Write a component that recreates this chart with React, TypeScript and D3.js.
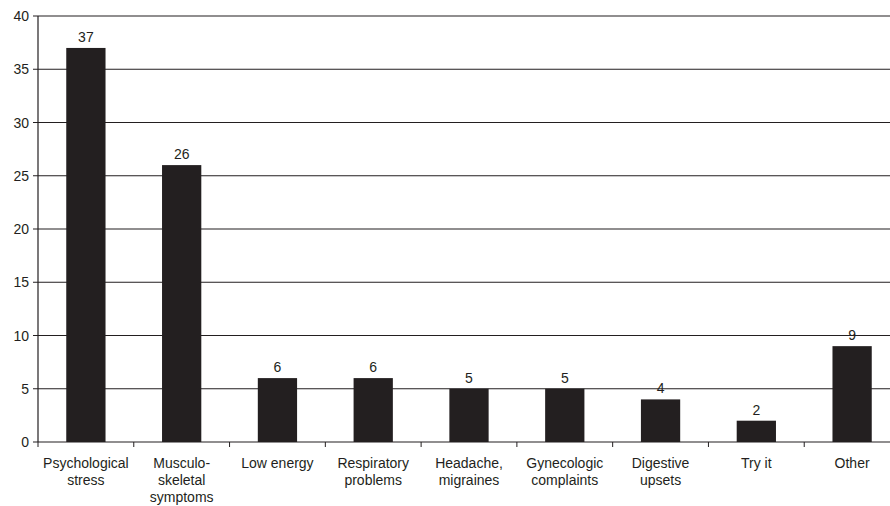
import React from "react";
import * as d3 from "d3";

const categories: string[][] = [
  ["Psychological", "stress"],
  ["Musculo-", "skeletal", "symptoms"],
  ["Low energy"],
  ["Respiratory", "problems"],
  ["Headache,", "migraines"],
  ["Gynecologic", "complaints"],
  ["Digestive", "upsets"],
  ["Try it"],
  ["Other"],
];
const values: number[] = [37, 26, 6, 6, 5, 5, 4, 2, 9];
const yTicks: number[] = [0, 5, 10, 15, 20, 25, 30, 35, 40];

export default function App() {
  const W = 890, H = 506;
  const left = 38, right = 900, top = 16, bottom = 442;
  const keys = categories.map((_, i) => String(i));
  const x = d3.scaleBand<string>().domain(keys).range([left, right]).paddingInner(0.59).paddingOuter(0.295);
  const xb = d3.scaleBand<string>().domain(keys).range([left, right]);
  const y = d3.scaleLinear().domain([0, 40]).range([bottom, top]);
  const font = "Arial, 'Liberation Sans', sans-serif";
  const ink = "#231f20";
  return (
    <svg width={W} height={H} style={{ position: "absolute", left: 0, top: 0, background: "#fff" }} fontFamily={font}>
      {yTicks.map((t) => (
        <g key={t}>
          <line x1={left - 5} x2={W} y1={y(t)} y2={y(t)} stroke={ink} strokeWidth={1.2} />
          <text x={left - 9} y={y(t)} dy="0.36em" textAnchor="end" fontSize={14} fill={ink}>{t}</text>
        </g>
      ))}
      <line x1={left} x2={left} y1={top} y2={bottom} stroke={ink} strokeWidth={1.2} />
      {keys.map((k, i) => (
        <line key={"t" + k} x1={(xb(k) as number)} x2={(xb(k) as number)} y1={bottom} y2={bottom + 5} stroke={ink} strokeWidth={1} />
      ))}
      {values.map((v, i) => {
        const k = keys[i];
        const bx = x(k) as number;
        const cx = bx + x.bandwidth() / 2;
        return (
          <g key={"b" + k}>
            <rect x={bx} y={y(v)} width={x.bandwidth()} height={bottom - y(v)} fill={ink} />
            <text x={cx} y={y(v) - 6} textAnchor="middle" fontSize={14} fill={ink}>{v}</text>
            {categories[i].map((line, j) => (
              <text key={j} x={cx} y={468 + j * 17} textAnchor="middle" fontSize={14} fill={ink}>{line}</text>
            ))}
          </g>
        );
      })}
    </svg>
  );
}
